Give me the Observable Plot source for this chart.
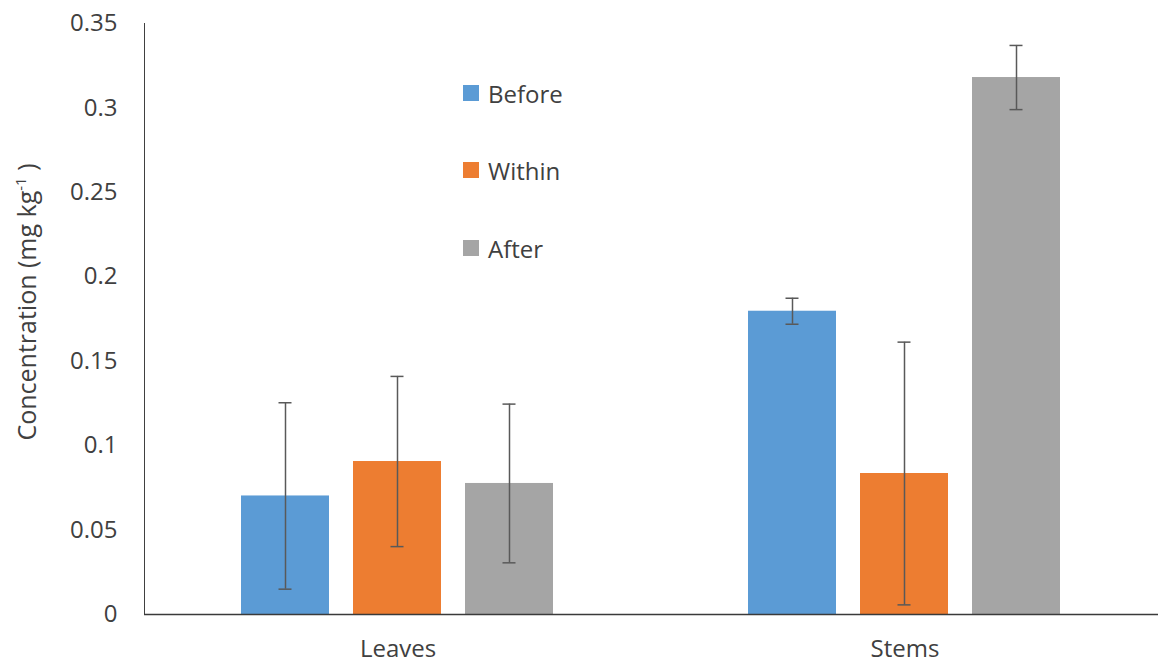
<!DOCTYPE html>
<html>
<head>
<meta charset="utf-8">
<script src="https://cdn.jsdelivr.net/npm/d3@7"></script>
<script src="https://cdn.jsdelivr.net/npm/@observablehq/plot@0.6"></script>
<style>
  body { margin: 0; background: #fff; }
  #wrap { position: relative; width: 1158px; height: 664px; font-family: "Open Sans", sans-serif; color: #404040; }
  .legend { position: absolute; left: 463px; top: 0; font-size: 24px; }
  .legend .item { position: absolute; left: 0; display: flex; align-items: center; white-space: nowrap; }
  .legend .sw { width: 16px; height: 16px; margin-right: 9px; }
</style>
</head>
<body>
<div id="wrap"></div>
<script>
// Plant parts and sampling periods
const parts = ["Leaves", "Stems"];
const series = ["Before", "Within", "After"];
const colors = ["#5B9BD5", "#ED7D31", "#A5A5A5"];

// Mean concentration (mg kg-1) and error half-widths, per period
const leavesMean = [0.0702, 0.0906, 0.0776];
const leavesErr = [0.0552, 0.0504, 0.0470];
const stemsMean = [0.1796, 0.0835, 0.3180];
const stemsErr = [0.0077, 0.0778, 0.0190];

const yTicks = [0, 0.05, 0.1, 0.15, 0.2, 0.25, 0.3, 0.35];
const yLabel = "Concentration (mg kg";

const rows = [];
series.forEach((s, i) => {
  rows.push({part: "Leaves", series: s, mean: leavesMean[i], err: leavesErr[i]});
  rows.push({part: "Stems", series: s, mean: stemsMean[i], err: stemsErr[i]});
});

const chart = Plot.plot({
  width: 1158,
  height: 664,
  marginLeft: 144,
  marginRight: 0,
  marginTop: 23,
  marginBottom: 50,
  style: {fontFamily: "'Open Sans', sans-serif", fontSize: "24px", color: "#404040", background: "#fff"},
  facet: {data: rows, x: "part"},
  fx: {domain: parts, padding: 0, axis: "bottom", label: null, tickSize: 0, tickPadding: 25},
  x: {domain: series, axis: null, paddingInner: 0.214, paddingOuter: 0.87},
  y: {domain: [0, 0.35], ticks: yTicks, tickFormat: d => String(+d.toFixed(2)), tickSize: 0, tickPadding: 27, line: true, label: null},
  color: {domain: series, range: colors},
  marks: [
    Plot.barY(rows, {x: "series", y: "mean", fill: "series"}),
    Plot.ruleX(rows, {x: "series", y1: d => d.mean - d.err, y2: d => d.mean + d.err, stroke: "#595959", strokeWidth: 1.5}),
    Plot.tickY(rows, {x: "series", y: d => d.mean + d.err, stroke: "#595959", strokeWidth: 1.5, insetLeft: 37.5, insetRight: 37.5}),
    Plot.tickY(rows, {x: "series", y: d => d.mean - d.err, stroke: "#595959", strokeWidth: 1.5, insetLeft: 37.5, insetRight: 37.5}),
    Plot.ruleY([0], {stroke: "#3a3a3a", strokeWidth: 1.5})
  ]
});

// Rotated y-axis title with a superscript unit exponent
const svg = d3.select(chart);
const t = svg.append("text")
  .attr("transform", "translate(36,302) rotate(-90)")
  .attr("text-anchor", "middle")
  .attr("fill", "#404040")
  .style("font-size", "25px");
t.append("tspan").text(yLabel);
t.append("tspan").attr("dy", -10).style("font-size", "15px").text("-1");
t.append("tspan").attr("dy", 10).text(" )");

const wrap = document.getElementById("wrap");
wrap.appendChild(chart);

// Series key inside the plot area
const legend = document.createElement("div");
legend.className = "legend";
const legendY = [93, 170, 248];
series.forEach((s, i) => {
  const item = document.createElement("div");
  item.className = "item";
  item.style.top = (legendY[i] - 17) + "px";
  item.style.height = "34px";
  const sw = document.createElement("span");
  sw.className = "sw";
  sw.style.background = colors[i];
  const lab = document.createElement("span");
  lab.textContent = s;
  item.appendChild(sw);
  item.appendChild(lab);
  legend.appendChild(item);
});
wrap.appendChild(legend);
</script>
</body>
</html>
